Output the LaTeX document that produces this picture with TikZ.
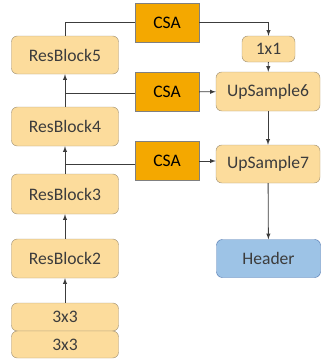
\documentclass[tikz,border=0pt]{standalone}
\usepackage{fontspec}
\setmainfont{Carlito}
\definecolor{blockfill}{HTML}{FCDC9C}
\definecolor{blockline}{HTML}{A8987A}
\definecolor{csafill}{HTML}{F4A800}
\definecolor{headfill}{HTML}{9DC3E6}
\definecolor{headline}{HTML}{5A7FB5}
\definecolor{txt}{HTML}{3C3C3C}
\begin{document}
\begin{tikzpicture}[x=0.03cm, y=-0.03cm, font=\fontsize{15}{17}\selectfont, text=txt]
      \useasboundingbox (0,0) rectangle (321,362);
      \tikzset{blk/.style={rectangle, rounded corners=5pt, draw=blockline, fill=blockfill, inner sep=0pt},
               csa/.style={rectangle, draw=gray, fill=csafill, text=black, inner sep=0pt, minimum width=1.92cm, minimum height=1.17cm}}

      \begin{scope}[every node/.style={blk, minimum width=3.21cm}]
        \node [minimum height=1.14cm] (rb5) at (65,55) {ResBlock5};
        \node [minimum height=1.17cm] (rb4) at (65,126.5) {ResBlock4};
        \node [minimum height=1.2cm] (rb3) at (65,194) {ResBlock3};
        \node [minimum height=1.17cm] (rb2) at (65,258.5) {ResBlock2};
        \node [minimum height=0.84cm] (c1) at (65,317) {3x3};
        \node [minimum height=0.81cm] (c2) at (65,344.5) {3x3};
      \end{scope}

      \begin{scope}[every node/.style={blk}]
        \node [minimum width=1.59cm, minimum height=0.78cm] (one) at (268.5,49) {1x1};
        \node [minimum width=3.12cm, minimum height=1.17cm] (up6) at (268,91.5) {UpSample6};
        \node [minimum width=3.12cm, minimum height=1.14cm] (up7) at (268,164) {UpSample7};
        \node [minimum width=3.12cm, minimum height=1.14cm, fill=headfill, draw=headline] (head) at (268.5,258.5) {Header};
      \end{scope}

      \node [csa] (csa5) at (167,22.5) {CSA};
      \node [csa] (csa4) at (167,92) {CSA};
      \node [csa] (csa3) at (167,161) {CSA};

      \coordinate (b4) at (65,93);
      \coordinate (b3) at (65,164);

      \begin{scope}[->, >=latex, draw=txt, line width=0.7pt]
        \draw (c1) to (rb2);
        \draw (rb2) to (rb3);
        \draw (rb3) to (rb4);
        \draw (rb4) to (rb5);
        \draw [-] (b3) to (b3 -| csa3.west);
        \draw [-] (b4) to (b4 -| csa4.west);
        \draw [-] (rb5.north) |- (csa5.west);
        \draw (csa5.east) -| (one.north);
        \draw (csa4) to (up6);
        \draw (csa3.east) to (csa3.east -| up7.west);
        \draw (one) to (up6);
        \draw (up6) to (up7);
        \draw (up7) to (head);
      \end{scope}
\end{tikzpicture}
\end{document}
